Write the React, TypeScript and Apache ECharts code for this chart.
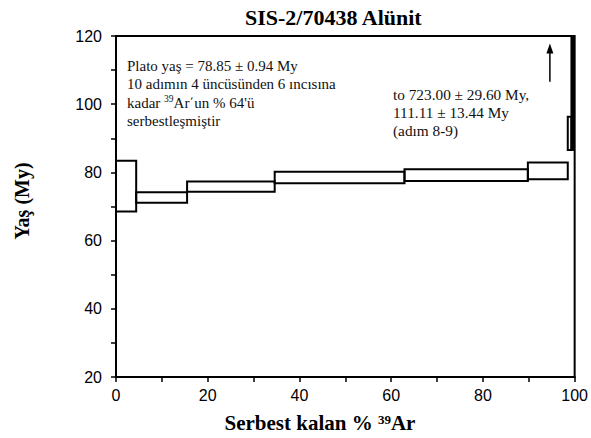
import React, { useEffect, useRef } from "react";
import * as echarts from "echarts";

// Step data: cumulative % 39Ar start/end, age low/high (My)
const stepStart = [0, 4.4, 15.5, 34.6, 62.9, 89.8, 98.5, 99.3, 99.7];
const stepEnd = [4.4, 15.5, 34.6, 62.9, 89.8, 98.5, 99.3, 99.7, 100];
const ageLow = [68.5, 71.1, 74.3, 76.8, 77.5, 78.0, 86.6, 86.6, 693.4];
const ageHigh = [83.4, 74.2, 77.3, 80.2, 80.9, 82.9, 96.3, 135.0, 752.6];
const stepFilled = [0, 0, 0, 0, 0, 0, 0, 1, 1];

const xTicks = [0, 20, 40, 60, 80, 100];
const yTicks = [20, 40, 60, 80, 100, 120];

const arrowX = [94.6, 94.6];
const arrowY = [106.6, 116.3];

const titleText = "SIS-2/70438 Alünit";
const yName = "Yaş (My)";
const platoLines = [
  "Plato yaş = 78.85 ± 0.94 My",
  "10 adımın 4 üncüsünden 6 ıncısına",
  "kadar {sup|39}Ar΄un % 64'ü",
  "serbestleşmiştir",
];
const rightLines = ["to 723.00 ± 29.60 My,", "111.11 ± 13.44 My", "(adım 8-9)"];

export default function App() {
  const ref = useRef<HTMLDivElement>(null);
  useEffect(() => {
    if (!ref.current) return;
    const chart = echarts.init(ref.current, undefined, { renderer: "svg" });
    const stepData = stepStart.map((s, i) => [s, stepEnd[i], ageLow[i], ageHigh[i], stepFilled[i]]);
    const serif = "'Liberation Serif', 'Times New Roman', serif";
    const sans = "'Liberation Sans', Arial, sans-serif";
    const option: any = {
      animation: false,
      backgroundColor: "#fff",
      title: {
        text: titleText,
        left: 245,
        top: 6,
        padding: 0,
        textStyle: { fontFamily: serif, fontWeight: "bold", fontSize: 22, color: "#000" },
      },
      grid: {
        left: 116,
        right: 16,
        top: 36,
        bottom: 61,
        show: true,
        borderColor: "#000",
        borderWidth: 2,
      },
      xAxis: {
        type: "value",
        min: 0,
        max: 100,
        interval: 20,
        axisLine: { show: true, lineStyle: { color: "#000", width: 2 } },
        axisTick: { show: true, length: 5, lineStyle: { color: "#000", width: 1.5 } },
        minorTick: { show: true, splitNumber: 2, length: 5, lineStyle: { color: "#000", width: 1.5 } },
        splitLine: { show: false },
        axisLabel: {
          margin: 10,
          fontFamily: sans,
          fontSize: 16,
          color: "#000",
          formatter: (v: number) => (xTicks.includes(v) ? String(v) : ""),
        },
      },
      yAxis: {
        type: "value",
        min: 20,
        max: 120,
        interval: 20,
        axisLine: { show: true, lineStyle: { color: "#000", width: 2 } },
        axisTick: { show: true, length: 5, lineStyle: { color: "#000", width: 1.5 } },
        minorTick: { show: true, splitNumber: 2, length: 5, lineStyle: { color: "#000", width: 1.5 } },
        splitLine: { show: false },
        axisLabel: {
          margin: 14,
          fontFamily: sans,
          fontSize: 16,
          color: "#000",
          formatter: (v: number) => (yTicks.includes(v) ? String(v) : ""),
        },
      },
      graphic: [
        {
          type: "text",
          x: 22,
          y: 201,
          rotation: Math.PI / 2,
          style: {
            text: yName,
            font: `bold 20px ${serif}`,
            fill: "#000",
            textAlign: "center",
            textVerticalAlign: "middle",
          },
        },
        {
          type: "text",
          x: 320,
          y: 423,
          style: {
            text: "Serbest kalan % {sup|39}Ar",
            font: `bold 21px ${serif}`,
            fill: "#000",
            textAlign: "center",
            textVerticalAlign: "middle",
            rich: {
              sup: { font: `bold 13px ${serif}`, verticalAlign: "top", fill: "#000", padding: [0, 0, 8, 0] },
            },
          },
        },
        {
          type: "text",
          x: 127,
          y: 57,
          style: {
            text: platoLines.join("\n"),
            font: `15px ${serif}`,
            fill: "#111",
            lineHeight: 18.3,
            rich: {
              sup: { font: `9.5px ${serif}`, fill: "#111", lineHeight: 18.3, padding: [0, 0, 7, 0] },
            },
          },
        },
        {
          type: "text",
          x: 393,
          y: 85,
          style: {
            text: rightLines.join("\n"),
            font: `15.3px ${serif}`,
            fill: "#111",
            lineHeight: 18.3,
          },
        },
      ],
      series: [
        {
          type: "custom",
          data: stepData,
          encode: { x: [0, 1], y: [2, 3] },
          renderItem: (params: any, api: any) => {
            const p1 = api.coord([api.value(0), api.value(3)]);
            const p2 = api.coord([api.value(1), api.value(2)]);
            const filled = api.value(4) === 1;
            const shape = echarts.graphic.clipRectByRect(
              { x: p1[0], y: p1[1], width: p2[0] - p1[0], height: p2[1] - p1[1] },
              {
                x: params.coordSys.x,
                y: params.coordSys.y,
                width: params.coordSys.width,
                height: params.coordSys.height,
              }
            );
            if (!shape) return null;
            return {
              type: "rect",
              shape,
              style: {
                fill: filled ? "#000" : "none",
                stroke: "#000",
                lineWidth: 2,
              },
            };
          },
        },
        {
          type: "line",
          data: [
            { value: [arrowX[0], arrowY[0]], symbol: "none" },
            { value: [arrowX[1], arrowY[1]], symbol: "triangle", symbolSize: [7, 10] },
          ],
          showSymbol: true,
          lineStyle: { color: "#000", width: 1.5 },
          itemStyle: { color: "#000" },
          silent: true,
        },
      ],
    };
    chart.setOption(option);
    return () => chart.dispose();
  }, []);
  return (
    <div
      ref={ref}
      style={{ position: "fixed", left: 0, top: 0, width: 591, height: 438 }}
    />
  );
}
